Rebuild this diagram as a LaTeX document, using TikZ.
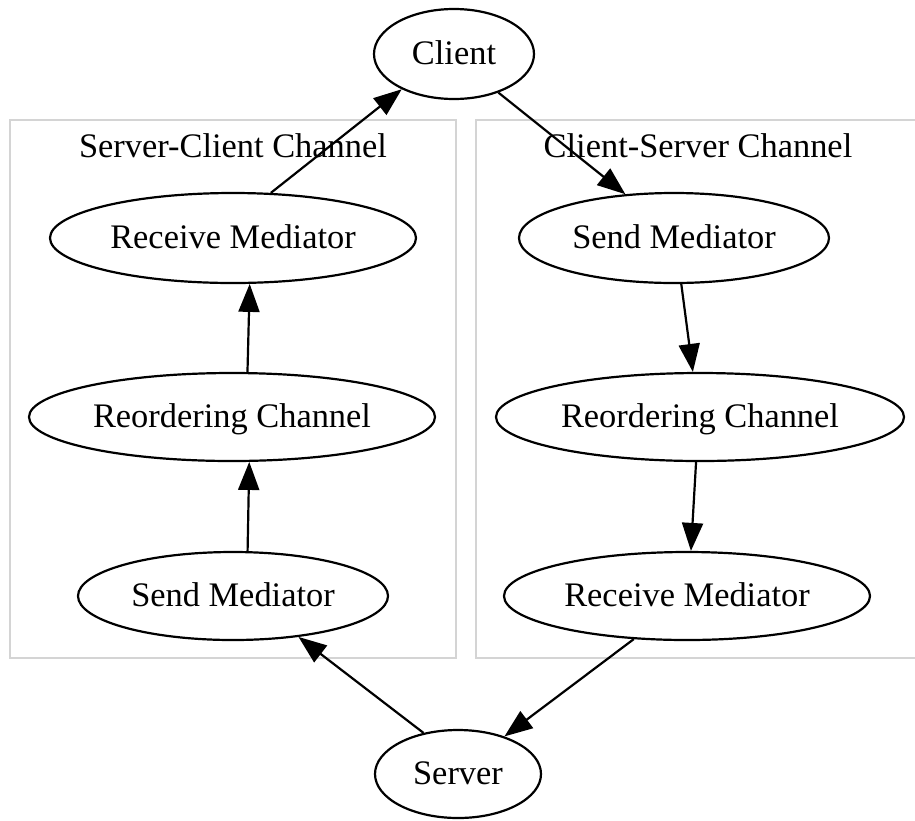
\documentclass[tikz,border=0pt]{standalone}
\usepackage{fontspec}
\setmainfont{Liberation Serif}
\usetikzlibrary{shapes.geometric,arrows.meta}
\tikzset{
  gnode/.style={draw=black, line width=1.1pt, ellipse, inner sep=0pt,
    font=\fontsize{17.2}{20}\selectfont, text height=10pt, text depth=0pt},
  cluster/.style={draw=black!17, line width=1pt},
  clabel/.style={font=\fontsize{17.2}{20}\selectfont, anchor=base, inner sep=0pt},
  gedge/.style={line width=1.1pt, -{Triangle[length=14pt,width=10.5pt]}}
}
\begin{document}
\begin{tikzpicture}[x=0.5pt,y=-0.5pt]
\useasboundingbox (0,0) rectangle (915,820);
% clusters
\draw[cluster] (10,120) rectangle (456,658);
\draw[cluster] (925,120) -- (476,120) -- (476,658) -- (925,658);
\node[clabel] (lctitle) at (233,157) {Server-Client Channel};
\node[clabel] (rctitle) at (698,157) {Client-Server Channel};
% nodes
\node[gnode, minimum width=80pt, minimum height=45pt] (client) at (454,54) {Client};
\node[gnode, minimum width=83pt, minimum height=44pt] (server) at (458,774) {Server};
\node[gnode, minimum width=183pt, minimum height=45pt] (lrecv) at (233,238) {Receive Mediator};
\node[gnode, minimum width=203pt, minimum height=44pt] (lreord) at (232,417) {Reordering Channel};
\node[gnode, minimum width=155pt, minimum height=44pt] (lsend) at (233,596) {Send Mediator};
\node[gnode, minimum width=155pt, minimum height=45pt] (rsend) at (674,238) {Send Mediator};
\node[gnode, minimum width=204pt, minimum height=44pt] (rreord) at (700,417) {Reordering Channel};
\node[gnode, minimum width=183pt, minimum height=44pt] (rrecv) at (687,596) {Receive Mediator};
% edges
\draw[gedge] (client.-41.6) -- (rsend.138.7);
\draw[gedge] (rsend.-81) -- (rreord.99);
\draw[gedge] (rreord.-95) -- (rrecv.85);
\draw[gedge] (rrecv.-141.5) -- (server.39.4);
\draw[gedge] (server.130.5) -- (lsend.-32.6);
\draw[gedge] (lsend.72) -- (lreord.-69);
\draw[gedge] (lreord.71.6) -- (lrecv.-70.4);
\draw[gedge] (lrecv.50.6) -- (client.-146);
\end{tikzpicture}
\end{document}
